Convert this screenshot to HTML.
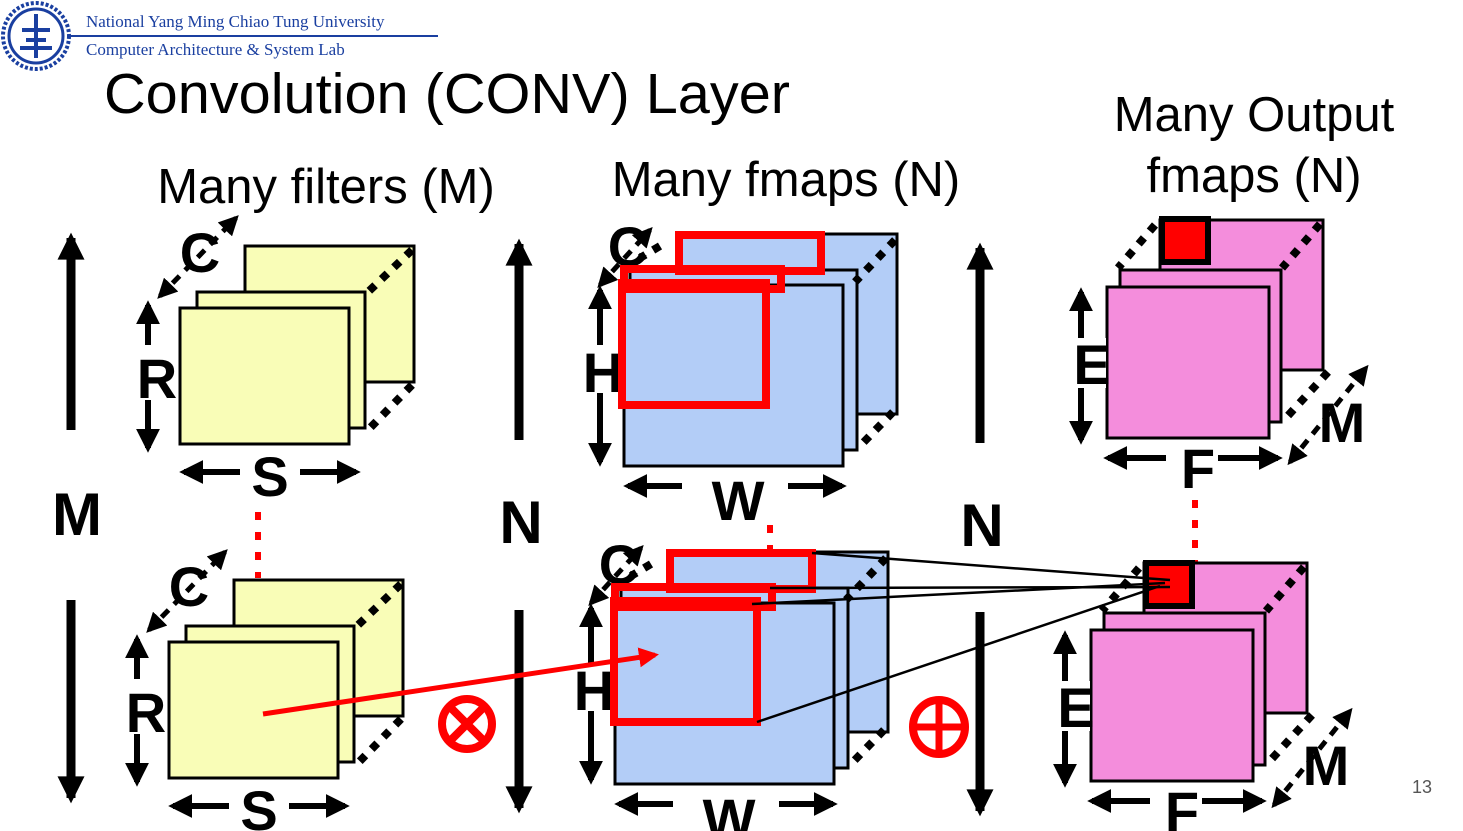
<!DOCTYPE html>
<html><head><meta charset="utf-8"><style>
html,body{margin:0;padding:0;background:#fff;}
svg{display:block;font-family:"Liberation Sans",Arial,sans-serif;}
</style></head><body>
<svg width="1463" height="831" viewBox="0 0 1463 831" xmlns="http://www.w3.org/2000/svg">
<defs>
<marker id="ah" viewBox="0 0 10 10" refX="8" refY="5" markerWidth="4" markerHeight="4" orient="auto-start-reverse"><path d="M0,0L10,5L0,10z" fill="#000"/></marker>
<marker id="ahb" viewBox="0 0 10 10" refX="8" refY="5" markerWidth="3.6" markerHeight="3" orient="auto"><path d="M0,0L10,5L0,10z" fill="#000"/></marker>
<marker id="ahr" viewBox="0 0 10 10" refX="8" refY="5" markerWidth="4" markerHeight="4" orient="auto"><path d="M0,0L10,5L0,10z" fill="#f00"/></marker>
<g id="filt">
<rect x="245" y="246" width="169" height="136" fill="#f9fdb7" stroke="#000" stroke-width="3"/>
<rect x="197" y="292" width="168" height="136" fill="#f9fdb7" stroke="#000" stroke-width="3"/>
<rect x="180" y="308" width="169" height="136" fill="#f9fdb7" stroke="#000" stroke-width="3"/>
<line x1="412" y1="250" x2="368" y2="292" stroke="#000" stroke-width="8" stroke-dasharray="8,9"/>
<line x1="412" y1="385" x2="370" y2="428" stroke="#000" stroke-width="8" stroke-dasharray="8,9"/>
<line x1="160" y1="296" x2="236" y2="218" stroke="#000" stroke-width="5" stroke-dasharray="10,8" marker-start="url(#ah)" marker-end="url(#ah)"/>
<line x1="148" y1="305" x2="148" y2="448" stroke="#000" stroke-width="6" marker-start="url(#ah)" marker-end="url(#ah)"/>
<rect x="135" y="345" width="40" height="55" fill="#fff"/>
<line x1="184" y1="472" x2="356" y2="472" stroke="#000" stroke-width="6" marker-start="url(#ah)" marker-end="url(#ah)"/>
<rect x="240" y="450" width="60" height="48" fill="#fff"/>
<text x="200" y="272" font-size="56" font-weight="bold" text-anchor="middle" fill="#000">C</text>
<text x="157" y="398" font-size="56" font-weight="bold" text-anchor="middle">R</text>
<text x="270" y="496" font-size="56" font-weight="bold" text-anchor="middle">S</text>
</g>
<g id="fm">
<rect x="678" y="234" width="219" height="180" fill="#b3cdf7" stroke="#000" stroke-width="3"/>
<rect x="630" y="270" width="227" height="180" fill="#b3cdf7" stroke="#000" stroke-width="3"/>
<rect x="624" y="285" width="219" height="181" fill="#b3cdf7" stroke="#000" stroke-width="3"/>
<line x1="895" y1="240" x2="855" y2="282" stroke="#000" stroke-width="8" stroke-dasharray="8,9"/>
<line x1="893" y1="412" x2="858" y2="448" stroke="#000" stroke-width="8" stroke-dasharray="8,9"/>
<line x1="660" y1="246" x2="640" y2="258" stroke="#000" stroke-width="8" stroke-dasharray="8,9"/>
<line x1="600" y1="285" x2="650" y2="230" stroke="#000" stroke-width="5" stroke-dasharray="10,8" marker-start="url(#ah)" marker-end="url(#ah)"/>
<line x1="600" y1="290" x2="600" y2="462" stroke="#000" stroke-width="6" marker-start="url(#ah)" marker-end="url(#ah)"/>
<rect x="584" y="345" width="36" height="48" fill="#fff"/>
<line x1="628" y1="486" x2="842" y2="486" stroke="#000" stroke-width="6" marker-start="url(#ah)" marker-end="url(#ah)"/>
<rect x="682" y="470" width="106" height="46" fill="#fff"/>
<text x="628" y="266" font-size="56" font-weight="bold" text-anchor="middle">C</text>
<text x="603" y="392" font-size="56" font-weight="bold" text-anchor="middle">H</text>
<text x="738" y="520" font-size="56" font-weight="bold" text-anchor="middle">W</text>
</g>
<g id="out">
<rect x="1160" y="220" width="163" height="150" fill="#f48ddc" stroke="#000" stroke-width="3"/>
<rect x="1120" y="270" width="161" height="152" fill="#f48ddc" stroke="#000" stroke-width="3"/>
<rect x="1107" y="287" width="162" height="151" fill="#f48ddc" stroke="#000" stroke-width="3"/>
<line x1="1320" y1="224" x2="1282" y2="268" stroke="#000" stroke-width="8" stroke-dasharray="8,9"/>
<line x1="1328" y1="372" x2="1284" y2="420" stroke="#000" stroke-width="8" stroke-dasharray="8,9"/>
<line x1="1155" y1="225" x2="1118" y2="268" stroke="#000" stroke-width="8" stroke-dasharray="8,9"/>
<line x1="1290" y1="462" x2="1366" y2="368" stroke="#000" stroke-width="5" stroke-dasharray="10,8" marker-start="url(#ah)" marker-end="url(#ah)"/>
<line x1="1081" y1="292" x2="1081" y2="440" stroke="#000" stroke-width="6" marker-start="url(#ah)" marker-end="url(#ah)"/>
<rect x="1070" y="338" width="36" height="50" fill="#fff"/>
<line x1="1108" y1="458" x2="1278" y2="458" stroke="#000" stroke-width="6" marker-start="url(#ah)" marker-end="url(#ah)"/>
<rect x="1166" y="442" width="52" height="46" fill="#fff"/>
<text x="1092" y="384" font-size="56" font-weight="bold" text-anchor="middle">E</text>
<text x="1198" y="488" font-size="56" font-weight="bold" text-anchor="middle">F</text>
<text x="1342" y="442" font-size="56" font-weight="bold" text-anchor="middle">M</text>
</g>
</defs>

<circle cx="36" cy="36" r="33" fill="#fff" stroke="#1a3fa0" stroke-width="4" stroke-dasharray="3,2"/>
<circle cx="36" cy="36" r="27" fill="none" stroke="#1a3fa0" stroke-width="3"/>
<path d="M22,30 L50,30 M36,14 L36,58 M20,48 L52,48 M26,40 L46,40" stroke="#1a3fa0" stroke-width="4"/>
<text x="86" y="27" font-family="Liberation Serif,serif" font-size="17" fill="#1a3fa0">National Yang Ming Chiao Tung University</text>
<line x1="70" y1="36" x2="438" y2="36" stroke="#1a3fa0" stroke-width="2"/>
<text x="86" y="55" font-family="Liberation Serif,serif" font-size="17" fill="#1a3fa0">Computer Architecture &amp; System Lab</text>
<text x="104" y="113" font-size="57" fill="#000" textLength="686" lengthAdjust="spacingAndGlyphs">Convolution (CONV) Layer</text>
<text x="326" y="203" font-size="49" text-anchor="middle">Many filters (M)</text>
<text x="786" y="196" font-size="49" text-anchor="middle">Many fmaps (N)</text>
<text x="1254" y="131" font-size="49" text-anchor="middle">Many Output</text>
<text x="1254" y="192" font-size="49" text-anchor="middle">fmaps (N)</text>

<g stroke="#000" stroke-width="9">
<line x1="71" y1="430" x2="71" y2="238" marker-end="url(#ahb)"/>
<line x1="71" y1="600" x2="71" y2="798" marker-end="url(#ahb)"/>
<line x1="519" y1="440" x2="519" y2="244" marker-end="url(#ahb)"/>
<line x1="519" y1="610" x2="519" y2="808" marker-end="url(#ahb)"/>
<line x1="980" y1="443" x2="980" y2="248" marker-end="url(#ahb)"/>
<line x1="980" y1="612" x2="980" y2="811" marker-end="url(#ahb)"/>
</g>
<text x="77" y="535" font-size="60" font-weight="bold" text-anchor="middle">M</text>
<text x="521" y="543" font-size="60" font-weight="bold" text-anchor="middle">N</text>
<text x="982" y="546" font-size="60" font-weight="bold" text-anchor="middle">N</text>

<line x1="258" y1="512" x2="258" y2="578" stroke="#f00" stroke-width="6" stroke-dasharray="8,12"/>
<line x1="770" y1="505" x2="770" y2="570" stroke="#f00" stroke-width="6" stroke-dasharray="8,12"/>
<line x1="1195" y1="500" x2="1195" y2="565" stroke="#f00" stroke-width="6" stroke-dasharray="8,12"/>

<use href="#filt"/>
<use href="#filt" transform="translate(-11,334)"/>
<use href="#fm"/>
<use href="#fm" transform="translate(-9,318)"/>
<use href="#out"/>
<use href="#out" transform="translate(-16,343)"/>

<g fill="none" stroke="#f00" stroke-width="8">
<rect x="679" y="235" width="142" height="36"/>
<rect x="624" y="269" width="157" height="20"/>
<rect x="622" y="283" width="144" height="122"/>
<rect x="670" y="553" width="142" height="36"/>
<rect x="615" y="587" width="157" height="20"/>
<rect x="614" y="601" width="143" height="121"/>
</g>
<rect x="1162" y="219" width="46" height="43" fill="#f00" stroke="#000" stroke-width="6"/>
<rect x="1146" y="563" width="46" height="43" fill="#f00" stroke="#000" stroke-width="6"/>

<g stroke="#000" stroke-width="2.5">
<line x1="812" y1="553" x2="1170" y2="580"/>
<line x1="770" y1="588" x2="1170" y2="587"/>
<line x1="752" y1="604" x2="1165" y2="583"/>
<line x1="757" y1="722" x2="1160" y2="586"/>
</g>
<line x1="263" y1="714" x2="655" y2="655" stroke="#f00" stroke-width="5" marker-end="url(#ahr)"/>

<circle cx="467" cy="724" r="25" fill="none" stroke="#f00" stroke-width="8"/>
<path d="M451,708L483,740M483,708L451,740" stroke="#f00" stroke-width="8"/>
<ellipse cx="939" cy="727" rx="26" ry="27" fill="none" stroke="#f00" stroke-width="8"/>
<path d="M939,700V754M913,727H965" stroke="#f00" stroke-width="7"/>

<text x="1422" y="793" font-size="18" fill="#555" text-anchor="middle">13</text>
</svg>
</body></html>
